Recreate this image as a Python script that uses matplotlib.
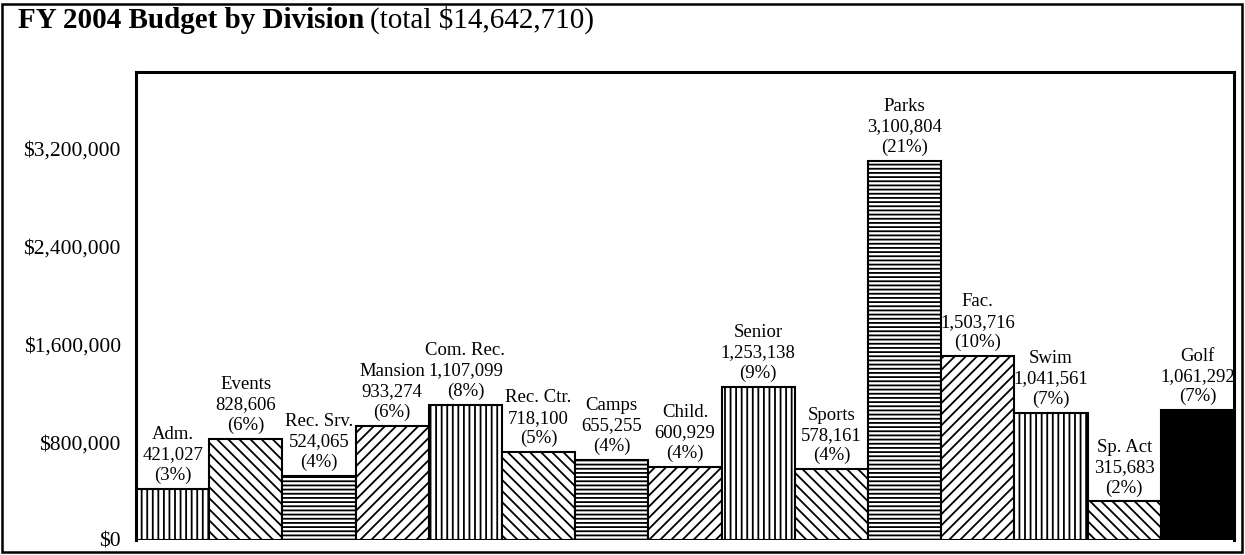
import matplotlib.pyplot as plt
from matplotlib.patches import Rectangle
from matplotlib.ticker import FuncFormatter

# division budgets, FY 2004
divisions = ['Adm.', 'Events', 'Rec. Srv.', 'Mansion', 'Com. Rec.', 'Rec. Ctr.', 'Camps',
             'Child.', 'Senior', 'Sports', 'Parks', 'Fac.', 'Swim', 'Sp. Act', 'Golf']
budgets = [421027, 828606, 524065, 933274, 1107099, 718100, 655255,
           600929, 1253138, 578161, 3100804, 1503716, 1041561, 315683, 1061292]
shares = [3, 6, 4, 6, 8, 5, 4, 4, 9, 4, 21, 10, 7, 2, 7]
hatches = ['|||', '\\\\\\', '----', '///', '|||', '\\\\\\', '----',
           '///', '|||', '\\\\\\', '----', '///', '|||', '\\\\\\', None]
y_ticks = [0, 800000, 1600000, 2400000, 3200000]

plt.rcParams['font.family'] = ['Liberation Serif', 'DejaVu Serif']
plt.rcParams['hatch.linewidth'] = 1.3

fig = plt.figure(figsize=(12.45, 5.55), dpi=100)
ax = fig.add_axes([136 / 1245, 15 / 555, 1098 / 1245, 468 / 555])

x = list(range(len(divisions)))
for i in x:
    solid = hatches[i] is None
    ax.bar(i, budgets[i], width=1.0, align='edge',
           color='black' if solid else 'white', edgecolor='black',
           hatch=hatches[i], linewidth=1.5, zorder=2)
    ax.text(i + 0.5, budgets[i] + 40000,
            f'{divisions[i]}\n{budgets[i]:,}\n({shares[i]}%)',
            ha='center', va='bottom', fontsize=13.5, linespacing=1.25)

ax.set_xlim(0, len(divisions))
ax.set_ylim(0, 3830000)
ax.set_yticks(y_ticks)
ax.yaxis.set_major_formatter(FuncFormatter(lambda v, p: f'${v:,.0f}'))
ax.tick_params(axis='y', length=0, pad=11, labelsize=15.5)
ax.set_xticks([])
for s in ax.spines.values():
    s.set_linewidth(2.2)
ax.spines['bottom'].set_visible(False)

# outer frame and title
fig.patches.append(Rectangle((2 / 1245, 3 / 555), 1240 / 1245, 548 / 555,
                             transform=fig.transFigure, fill=False,
                             edgecolor='black', linewidth=1.8))
t1 = fig.text(18 / 1245, 1 - 28 / 555, 'FY 2004 Budget by Division',
              fontsize=21, fontweight='bold', va='baseline', ha='left')
fig.canvas.draw()
bb = t1.get_window_extent()
fig.text(bb.x1 / 1245 + 6 / 1245, 1 - 28 / 555, '(total $14,642,710)',
         fontsize=21, va='baseline', ha='left')

fig.savefig('out.png', dpi=100)
